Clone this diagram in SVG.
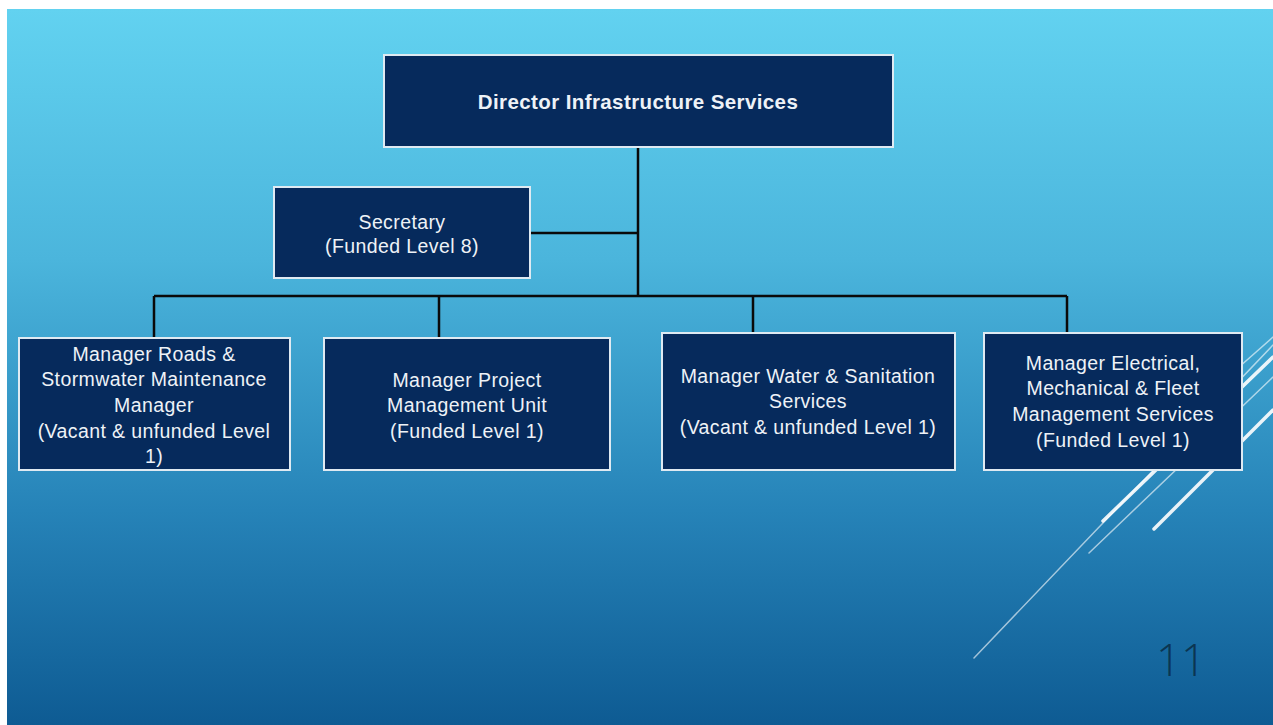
<svg xmlns="http://www.w3.org/2000/svg" width="1273" height="725" viewBox="0 0 1273 725">
<defs>
<linearGradient id="bg" x1="0" y1="0" x2="0" y2="1">
<stop offset="0" stop-color="#62d2f0"/>
<stop offset="0.35" stop-color="#4bb5dc"/>
<stop offset="0.7" stop-color="#2683b8"/>
<stop offset="1" stop-color="#0e5b93"/>
</linearGradient>
</defs>
<style>
.box{fill:#062a5c;stroke:#dfeaf2;stroke-width:2}
.t{font-family:"Liberation Sans",Arial,sans-serif;font-size:19.5px;fill:#eef2f7;text-anchor:middle;letter-spacing:0.4px}
.b{font-weight:bold;font-size:20.5px}
.conn{stroke:#0a0a0a;stroke-width:2.5;fill:none}
.dk{stroke:#ffffff;stroke-width:3.5;stroke-linecap:round;opacity:0.9}
.dn{stroke:#ffffff;stroke-width:1.5;stroke-linecap:round;opacity:0.6}
</style>
<rect x="0" y="0" width="1273" height="725" fill="#ffffff"/>
<rect x="7" y="9" width="1266" height="716" fill="url(#bg)"/>
<g id="decor">
<line class="dn" x1="974" y1="658" x2="1273" y2="345"/>
<line class="dn" x1="1089" y1="553" x2="1273" y2="377"/>
<line class="dk" x1="1103" y1="521" x2="1273" y2="357"/>
<line class="dk" x1="1154" y1="529" x2="1273" y2="410"/>
<line class="dn" x1="1230" y1="375" x2="1273" y2="337"/>
</g>
<g id="connectors">
<path class="conn" d="M638 147 V296"/>
<path class="conn" d="M530 233 H638"/>
<path class="conn" d="M154 296 H1067"/>
<path class="conn" d="M154 296 V338"/>
<path class="conn" d="M439 296 V338"/>
<path class="conn" d="M753 296 V333"/>
<path class="conn" d="M1067 296 V333"/>
</g>
<g id="director">
<rect class="box" x="384" y="55" width="509" height="92"/>
<text class="t b" x="638" y="109">Director Infrastructure Services</text>
</g>
<g id="secretary">
<rect class="box" x="274" y="187" width="256" height="91"/>
<text class="t" x="402" y="229">Secretary</text>
<text class="t" x="402" y="253">(Funded  Level 8)</text>
</g>
<g id="roads">
<rect class="box" x="19" y="338" width="271" height="132"/>
<text class="t" x="154" y="361">Manager Roads &amp;</text>
<text class="t" x="154" y="386">Stormwater Maintenance</text>
<text class="t" x="154" y="412">Manager</text>
<text class="t" x="154" y="438">(Vacant &amp; unfunded  Level</text>
<text class="t" x="154" y="463">1)</text>
</g>
<g id="project">
<rect class="box" x="324" y="338" width="286" height="132"/>
<text class="t" x="467" y="387">Manager Project</text>
<text class="t" x="467" y="412">Management Unit</text>
<text class="t" x="467" y="438">(Funded Level 1)</text>
</g>
<g id="water">
<rect class="box" x="662" y="333" width="293" height="137"/>
<text class="t" x="808" y="383">Manager Water &amp; Sanitation</text>
<text class="t" x="808" y="408">Services</text>
<text class="t" x="808" y="434">(Vacant &amp; unfunded  Level 1)</text>
</g>
<g id="electrical">
<rect class="box" x="984" y="333" width="258" height="137"/>
<text class="t" x="1113" y="370">Manager Electrical,</text>
<text class="t" x="1113" y="395">Mechanical &amp; Fleet</text>
<text class="t" x="1113" y="421">Management  Services</text>
<text class="t" x="1113" y="447">(Funded  Level 1)</text>
</g>
<text x="1181" y="676" font-family="'Open Sans','DejaVu Sans',sans-serif" font-weight="300" font-size="44" fill="#0b3552" text-anchor="middle">11</text>
</svg>
